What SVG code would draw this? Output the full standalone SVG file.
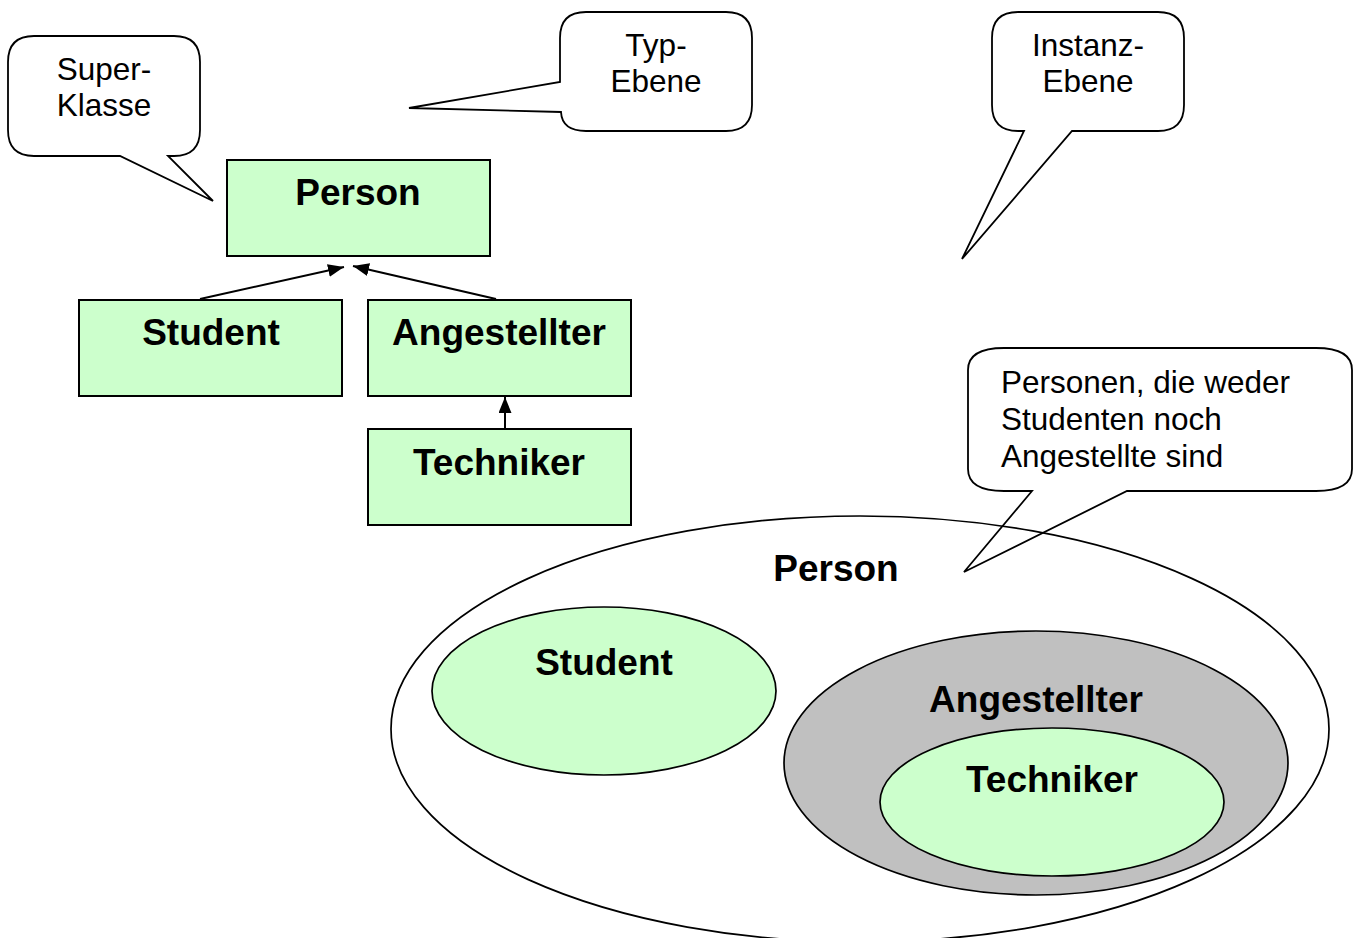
<svg xmlns="http://www.w3.org/2000/svg" width="1357" height="938" viewBox="0 0 1357 938">
<style>
.box{fill:#CCFFCC;stroke:#000;stroke-width:2}
.ell{stroke:#000;stroke-width:1.7}
.call{fill:none;stroke:#000;stroke-width:1.8;stroke-linejoin:miter}
.b{font-family:"Liberation Sans",Arial,sans-serif;font-weight:bold;font-size:37px;fill:#000;text-anchor:middle}
.r{font-family:"Liberation Sans",Arial,sans-serif;font-size:31.5px;fill:#000}
.c{text-anchor:middle}
.conn{stroke:#000;stroke-width:2;fill:none}
</style>
<defs>
<marker id="ah" viewBox="0 0 16 13" refX="16" refY="6.5" markerWidth="16" markerHeight="13" markerUnits="userSpaceOnUse" orient="auto">
<path d="M0,0 L16,6.5 L0,13 Z" fill="#000"/>
</marker>
</defs>
<rect width="1357" height="938" fill="#fff"/>

<g id="venn">
<g id="set-person"><ellipse class="ell" cx="860" cy="729" rx="469" ry="213" fill="#fff"/>
<text class="b" x="836" y="581">Person</text></g>
<g id="set-student"><ellipse class="ell" cx="604" cy="691" rx="172" ry="84" fill="#CCFFCC"/>
<text class="b" x="604" y="675">Student</text></g>
<g id="set-angestellter"><ellipse class="ell" cx="1036" cy="763" rx="252" ry="132" fill="#C0C0C0"/>
<text class="b" x="1036" y="712">Angestellter</text></g>
<g id="set-techniker"><ellipse class="ell" cx="1052" cy="802" rx="172" ry="74" fill="#CCFFCC"/>
<text class="b" x="1052" y="792">Techniker</text></g>
</g>

<g id="node-person"><rect class="box" x="227" y="160" width="263" height="96"/>
<text class="b" x="358" y="205">Person</text></g>
<g id="node-student"><rect class="box" x="79" y="300" width="263" height="96"/>
<text class="b" x="211" y="345">Student</text></g>
<g id="node-angestellter"><rect class="box" x="368" y="300" width="263" height="96"/>
<text class="b" x="499" y="345">Angestellter</text></g>
<g id="node-techniker"><rect class="box" x="368" y="429" width="263" height="96"/>
<text class="b" x="499" y="475">Techniker</text></g>

<g id="connectors">
<line class="conn" x1="200" y1="299" x2="344" y2="267" marker-end="url(#ah)"/>
<line class="conn" x1="496" y1="299" x2="353" y2="266" marker-end="url(#ah)"/>
<line class="conn" x1="505" y1="428" x2="505" y2="397" marker-end="url(#ah)"/>
</g>

<g id="callout-superklasse">
<path class="call" d="M34,36 H174 Q200,36 200,62 V130 Q200,156 174,156 H168 L213,201 L120,156 H34 Q8,156 8,130 V62 Q8,36 34,36 Z"/>
<text class="r c" x="104" y="80">Super-</text>
<text class="r c" x="104" y="116">Klasse</text>
</g>
<g id="callout-typebene">
<path class="call" d="M586,12 H726 Q752,12 752,38 V105 Q752,131 726,131 H586 Q562,131 561,112 L409,108 L560,82 V38 Q560,12 586,12 Z"/>
<text class="r c" x="656" y="56">Typ-</text>
<text class="r c" x="656" y="92">Ebene</text>
</g>
<g id="callout-instanzebene">
<path class="call" d="M1018,12 H1158 Q1184,12 1184,38 V105 Q1184,131 1158,131 H1072 L962,259 L1024,131 H1018 Q992,131 992,105 V38 Q992,12 1018,12 Z"/>
<text class="r c" x="1088" y="56">Instanz-</text>
<text class="r c" x="1088" y="92">Ebene</text>
</g>
<g id="callout-personen">
<path class="call" d="M1004,348 H1316 Q1352,348 1352,370 V469 Q1352,491 1316,491 H1127 L964,572 L1032,491 H1004 Q968,491 968,469 V370 Q968,348 1004,348 Z"/>
<text class="r" x="1001" y="393">Personen, die weder</text>
<text class="r" x="1001" y="430">Studenten noch</text>
<text class="r" x="1001" y="467">Angestellte sind</text>
</g>
</svg>
